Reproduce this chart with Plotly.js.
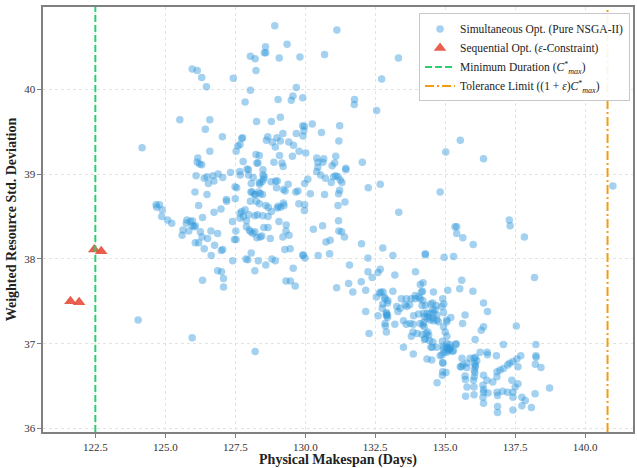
<!DOCTYPE html>
<html>
<head>
<meta charset="utf-8">
<script src="https://cdn.plot.ly/plotly-3.0.1.min.js"></script>
<style>html,body{margin:0;padding:0;background:#fff;}#chart{width:637px;height:468px;}</style>
</head>
<body>
<div id="chart"></div>
<script>
// ---- Simultaneous Opt. (Pure NSGA-II) point cloud ----
const A_x = [124.17,124.03,125.96,128.21,140.99];
const A_y = [39.31,37.28,37.07,36.91,38.86];

const B_x = [128.91,131.13,129.35,128.58,128.54,128.59,128.04,128.21,129.07,129.81,130.69,133.33,128.24,132.73,129.68,128.04,129.56,129.50,129.91,129.03,127.85,131.76,131.75,132.55,129.11,128.26,128.79,129.91,129.97,130.25,131.23,129.20,129.68,130.58,127.76,128.66,128.61,128.99,128.82,129.11,129.41,129.58,129.92,129.95,131.20,128.93,129.78,130.02,128.24,128.36,129.08,129.54,130.41,130.66,131.09,127.67];
const B_y = [40.75,40.70,40.53,40.50,40.43,40.43,40.39,40.36,40.37,40.38,40.41,40.37,40.22,40.12,40.02,39.99,39.92,39.87,39.90,39.88,39.85,39.88,39.82,39.75,39.67,39.62,39.62,39.57,39.56,39.59,39.57,39.48,39.48,39.49,39.43,39.44,39.40,39.43,39.38,39.39,39.38,39.34,39.45,39.51,39.39,39.32,39.27,39.25,39.23,39.22,39.22,39.21,39.19,39.18,39.21,39.35];

const C_x = [125.96,126.14,126.30,127.43,126.47,125.52,126.59,126.43,127.04,127.73,127.59,127.53,126.59,126.16,126.14,126.23,126.30,127.78,127.97,128.27,127.66,127.68,127.33,126.10,126.39,126.49,126.70,126.74,126.89,127.05,126.54,127.49,127.55,128.14,127.97,126.06,126.49,127.18,127.50,128.06,128.19,128.34,128.36];
const C_y = [40.24,40.22,40.14,40.13,40.03,39.64,39.64,39.53,39.44,39.42,39.33,39.27,39.27,39.19,39.14,39.12,39.11,39.15,39.05,39.13,39.03,38.99,39.02,38.98,38.95,38.97,38.98,38.92,39.00,38.96,38.89,38.85,38.84,38.96,38.99,38.79,38.76,38.70,38.71,38.79,38.76,38.79,38.90];

const D1_x = [128.31,128.88,129.17,129.21,130.45,130.63,131.05,130.96,127.92,128.49,128.49,128.37,128.45,128.94,129.00,128.78,129.39,129.66,129.74,129.98,130.09,130.18,130.41,130.55,130.72,130.93,130.69,131.19,131.17];
const D1_y = [39.13,39.14,39.13,39.09,39.14,39.14,39.13,39.10,39.06,39.05,38.99,38.88,38.91,38.92,38.92,38.91,38.88,38.79,38.80,38.89,38.94,38.77,39.03,38.99,38.95,38.90,38.76,38.77,38.63];

const D2_x = [126.19,126.33,126.74,126.99,127.19,127.40,127.52,127.47,127.53,127.67,127.73,127.85,127.67,127.79,127.90,127.98,128.10,128.21,128.39,128.47,128.04,128.25,128.36,128.59,128.20,128.29,128.48,128.67,128.68,128.79,129.00,129.03,129.12,129.22,129.24];
const D2_y = [38.63,38.49,38.55,38.59,38.68,38.44,38.33,38.23,38.23,38.54,38.56,38.58,38.48,38.50,38.45,38.52,38.79,38.76,38.77,38.76,38.68,38.68,38.65,38.63,38.51,38.52,38.51,38.50,38.61,38.56,38.60,38.62,38.61,38.66,38.63];

const D3_x = [127.90,128.00,128.05,128.13,128.20,128.27,128.39,128.45,128.52,128.67,128.75,129.06,129.32,129.31,129.20,129.42,129.77,129.98,129.97,130.62,130.29,131.19,131.20,130.74,130.89,130.87,130.46,129.91,129.99,129.93,129.27,129.46,129.57,129.31,129.47,129.64];
const D3_y = [38.38,38.34,38.32,38.30,38.32,38.25,38.26,38.27,38.37,38.37,38.24,38.44,38.40,38.33,38.26,38.28,38.65,38.64,38.57,38.39,38.35,38.45,38.33,38.20,38.22,38.06,38.04,38.04,38.01,38.05,38.11,38.12,37.89,37.74,37.74,37.68];

const D4_x = [128.59,128.93,128.81,128.32,128.20,127.88,127.95,128.07,127.41,127.00,127.05,126.76,126.64,126.39,126.51,126.07,126.19,126.25,126.31,126.03,125.97,126.07,125.84,125.63,125.60,125.77,125.89,125.75,125.97,125.23,125.08,124.87,124.89,124.67,124.79,124.69,126.87,127.01,127.08,127.08,126.33,126.87,126.63,131.12,128.07,128.51,128.53,128.97,129.22,129.28];
const D4_y = [37.93,37.98,38.00,37.98,37.86,38.00,37.99,38.07,37.98,38.10,38.11,38.16,38.04,38.12,38.24,38.19,38.19,38.32,38.26,38.38,38.39,38.39,38.33,38.34,38.28,38.46,38.44,38.42,38.45,38.42,38.46,38.50,38.58,38.64,38.64,38.61,37.86,37.85,37.77,37.67,37.75,38.30,38.33,37.66,38.89,38.94,38.97,38.84,38.82,38.80];

const E1_x = [130.45,131.45,131.45,132.04,131.01,131.09,131.17,131.25,131.31,131.23,131.42,132.25,132.68,135.02,136.37,134.82,133.34,131.30,131.40,135.35,135.41,135.41,135.63,136.00,132.01,132.77,133.13,132.24,134.29,134.29,134.96,135.30];
const E1_y = [39.08,39.07,39.05,39.14,38.97,38.98,38.97,38.93,38.90,38.81,38.67,38.84,38.88,39.26,39.18,38.79,38.55,38.32,38.26,38.38,38.38,38.30,38.25,38.17,38.18,38.13,38.04,38.01,38.06,38.05,38.02,38.03];

const E2_x = [131.58,132.24,132.68,132.60,132.39,132.00,133.20,133.94,134.11,134.21,131.55,131.70,132.16,132.54,132.65,132.78,132.82,132.86,132.95,132.94,132.77,133.13,133.43,133.61,133.79,133.93,134.05,134.20,133.93,134.15,134.58,134.91,135.09,135.52,135.59,135.99,136.37,136.51,135.71];
const E2_y = [37.93,37.85,37.88,37.84,37.78,37.73,37.81,37.85,37.70,37.72,37.71,37.61,37.63,37.55,37.60,37.61,37.55,37.53,37.51,37.48,37.47,37.62,37.53,37.53,37.53,37.53,37.55,37.51,37.57,37.61,37.61,37.53,37.63,37.65,37.75,37.62,37.48,37.38,37.34];

const E3_x = [132.75,132.90,132.90,132.94,133.27,133.31,133.57,133.63,133.73,134.23,134.35,134.41,134.55,134.64,134.56,134.70,134.88,134.94,135.20,135.06,132.16,132.60,133.51,133.61,133.75,133.20,132.86,132.90,132.28,133.85,134.00,134.18,134.41,133.79,134.26,134.56,135.00,135.06,134.90,135.06,135.17,135.39,133.51,135.62,136.37,136.29,136.07];
const E3_y = [37.42,37.37,37.33,37.31,37.44,37.38,37.46,37.44,37.46,37.36,37.36,37.32,37.48,37.40,37.30,37.28,37.44,37.37,37.31,37.26,37.38,37.33,37.27,37.23,37.24,37.23,37.21,37.14,37.12,37.14,37.12,37.11,37.10,37.09,37.05,37.02,37.14,37.09,37.03,37.00,36.99,37.00,36.96,37.24,37.20,37.16,37.05];

const F1_x = [134.71,133.86,135.73,136.03,135.71,135.72,135.77,136.01,136.04,136.03,135.89,136.03,136.13,136.07,135.57,135.63,134.91,135.03,134.91,134.88,134.82,135.17,135.11,135.06,134.96,135.26,135.38,134.94,134.49,134.52,134.35];
const F1_y = [36.54,36.88,36.38,36.40,36.62,36.58,36.72,36.57,36.69,36.49,36.83,36.83,36.80,36.75,36.73,36.75,36.67,36.66,36.78,36.87,36.86,36.94,36.92,36.90,36.90,36.91,36.99,36.97,36.96,36.81,36.82];

const F2_x = [132.85,132.90,132.94,132.70,133.39,133.86,133.87,134.05,134.26,134.35,134.46,134.58,134.76,134.25,134.32,134.20,134.38,134.44,134.48,134.55,134.46,135.10,135.15,135.05];
const F2_y = [37.24,37.35,37.34,37.61,37.42,37.23,37.33,37.35,37.32,37.30,37.28,37.27,37.26,37.20,37.12,37.22,37.14,37.04,37.47,37.40,37.36,36.95,36.93,36.96];

const G1_x = [138.19,134.19,134.11,137.54,137.08,138.24,138.24,138.25,138.22,138.42,137.70,137.56,137.42,137.60,137.30,137.23,137.08,136.96,136.85,136.83];
const G1_y = [37.78,37.62,37.53,37.21,36.99,36.99,36.86,36.84,36.76,36.72,36.86,36.82,36.79,36.73,36.77,36.75,36.71,36.69,36.67,36.86];

const G2_x = [135.78,136.04,136.37,136.35,136.37,136.37,136.35,136.37,136.49,136.53,136.70,136.85,136.85,136.87,137.05,137.23,137.38,137.42,137.50,137.60,137.42,137.74,137.86,137.74,138.21,138.08,138.73,136.87,136.87,137.42];
const G2_y = [36.49,36.61,36.63,36.51,36.46,36.43,36.37,36.30,36.57,36.42,36.55,36.61,36.43,36.39,36.44,36.43,36.57,36.43,36.49,36.53,36.37,36.37,36.33,36.27,36.41,36.25,36.48,36.26,36.19,36.22];

const G3_x = [136.50,136.51,136.25,136.08,136.05,136.08,136.06,135.78,135.60,135.54,134.17,134.29,134.68,134.58,134.70,134.23,134.11,134.29,134.54,134.70,134.94,135.18,135.30,134.94,134.95,135.05,134.92,134.90];
const G3_y = [36.90,36.87,36.90,36.84,36.77,36.73,36.66,36.77,36.83,36.73,37.45,37.45,37.45,37.36,37.34,37.25,37.24,37.06,36.96,36.96,36.94,36.96,36.92,37.20,37.47,37.28,36.77,36.63];

const H_x = [135.54,137.29,137.32,137.83];
const H_y = [39.40,38.46,38.39,38.26];

// ---- Sequential Opt. (epsilon-constraint) ----
const seqX = [121.61,121.92,122.46,122.71];
const seqY = [37.50,37.49,38.11,38.09];

// ---- Reference lines ----
const cMaxStar = 122.5;
const toleranceLimit = 140.8;

// ---- Axis ranges / ticks ----
const xRange = [120.63, 141.71];
const yRange = [35.96, 40.97];

const simX = [].concat(A_x,B_x,C_x,D1_x,D2_x,D3_x,D4_x,E1_x,E2_x,E3_x,F1_x,F2_x,G1_x,G2_x,G3_x,H_x);
const simY = [].concat(A_y,B_y,C_y,D1_y,D2_y,D3_y,D4_y,E1_y,E2_y,E3_y,F1_y,F2_y,G1_y,G2_y,G3_y,H_y);

const serif = '"Liberation Serif", "Times New Roman", "DejaVu Serif", serif';

const traces = [
  {
    type: 'scatter', mode: 'markers', x: simX, y: simY,
    name: 'Simultaneous Opt. (Pure NSGA-II)',
    marker: {size: 7.5, color: 'rgba(52,152,219,0.45)', line: {width: 0}}
  },
  {
    type: 'scatter', mode: 'markers', x: seqX, y: seqY,
    name: 'Sequential Opt. (<i>ε</i>-Constraint)',
    marker: {size: 11, symbol: 'triangle-up', color: 'rgba(231,76,60,0.9)', line: {width: 0}}
  },
  {
    type: 'scatter', mode: 'lines', x: [cMaxStar, cMaxStar], y: yRange,
    name: 'Minimum Duration (<i>C</i><sup>*</sup><sub><i>max</i></sub>)',
    line: {color: '#2ecc71', width: 2, dash: '7px,3px'}, hoverinfo: 'skip'
  },
  {
    type: 'scatter', mode: 'lines', x: [toleranceLimit, toleranceLimit], y: yRange,
    name: 'Tolerance Limit ((1 + <i>ε</i>)<i>C</i><sup>*</sup><sub><i>max</i></sub>)',
    line: {color: '#f39c12', width: 2, dash: '9px,3px,2px,3px'}, hoverinfo: 'skip'
  }
];

const axisCommon = {
  showgrid: true, gridcolor: '#e3e3e3', griddash: '3px,3px', gridwidth: 1,
  showline: true, linecolor: '#808080', linewidth: 1.6, mirror: true,
  ticks: 'outside', ticklen: 4, tickcolor: '#808080', tickwidth: 1,
  zeroline: false,
  tickfont: {family: serif, size: 11, color: '#333'}
};

const layout = {
  width: 637, height: 468,
  margin: {l: 43, r: 4, t: 7, b: 36},
  paper_bgcolor: '#ffffff', plot_bgcolor: '#ffffff',
  font: {family: serif, color: '#222'},
  showlegend: true,
  legend: {
    x: 0.995, y: 0.985, xanchor: 'right', yanchor: 'top',
    bgcolor: 'rgba(255,255,255,0.9)', bordercolor: '#c8c8c8', borderwidth: 1,
    font: {family: serif, size: 11.5, color: '#222'}, tracegroupgap: 0, itemwidth: 30
  },
  xaxis: Object.assign({}, axisCommon, {
    range: xRange, tick0: 122.5, dtick: 2.5, tickformat: '.1f',
    title: {text: '<b>Physical Makespan (Days)</b>', font: {family: serif, size: 14, color: '#222'}, standoff: 4}
  }),
  yaxis: Object.assign({}, axisCommon, {
    range: yRange, tick0: 36, dtick: 1, tickformat: 'd',
    title: {text: '<b>Weighted Resource Std. Deviation</b>', font: {family: serif, size: 14, color: '#222'}, standoff: 4}
  })
};

Plotly.newPlot('chart', traces, layout, {displayModeBar: false, staticPlot: true});
</script>
</body>
</html>
